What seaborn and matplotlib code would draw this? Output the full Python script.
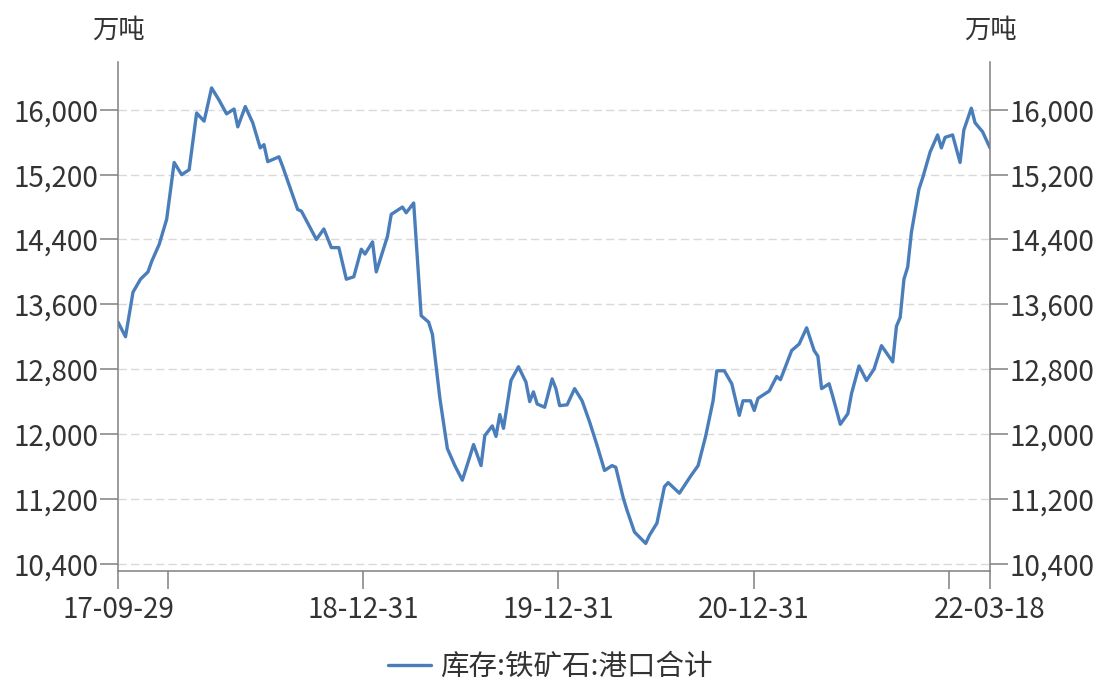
"""
Port iron ore inventory, weekly, with twin y axes.
"""
import matplotlib
matplotlib.use("Agg")
import matplotlib.pyplot as plt
import matplotlib.ticker as mticker
import numpy as np
import pandas as pd
import seaborn as sns

# --------------------------------------------------------------------------- #
# Data
# --------------------------------------------------------------------------- #
DATES = [
    "2017-09-29", "2017-10-13", "2017-10-27", "2017-11-10", "2017-11-24",
    "2017-12-01", "2017-12-15", "2017-12-29", "2018-01-12", "2018-01-26",
    "2018-02-09", "2018-02-23", "2018-03-09", "2018-03-23", "2018-04-06",
    "2018-04-20", "2018-05-04", "2018-05-11", "2018-05-25", "2018-06-08",
    "2018-06-22", "2018-06-29", "2018-07-06", "2018-07-27", "2018-08-03",
    "2018-08-31", "2018-09-07", "2018-10-05", "2018-10-19", "2018-11-02",
    "2018-11-16", "2018-11-30", "2018-12-14", "2018-12-28", "2019-01-04",
    "2019-01-18", "2019-01-25", "2019-02-15", "2019-02-22", "2019-03-15",
    "2019-03-22", "2019-04-05", "2019-04-12", "2019-04-19", "2019-05-03",
    "2019-05-10", "2019-05-24", "2019-06-07", "2019-06-21", "2019-07-05",
    "2019-07-19", "2019-07-26", "2019-08-09", "2019-08-16", "2019-08-30",
    "2019-09-06", "2019-09-13", "2019-09-20", "2019-10-04", "2019-10-18",
    "2019-11-01", "2019-11-08", "2019-11-15", "2019-11-22", "2019-12-06",
    "2019-12-20", "2019-12-27", "2020-01-03", "2020-01-17", "2020-01-31",
    "2020-02-14", "2020-02-28", "2020-03-13", "2020-03-27", "2020-04-10",
    "2020-04-17", "2020-05-01", "2020-05-08", "2020-05-22", "2020-06-12",
    "2020-06-19", "2020-07-03", "2020-07-17", "2020-07-24", "2020-08-14",
    "2020-09-04", "2020-09-18", "2020-10-02", "2020-10-16", "2020-10-23",
    "2020-11-06", "2020-11-20", "2020-12-04", "2020-12-11", "2020-12-25",
    "2021-01-01", "2021-01-08", "2021-01-29", "2021-02-12", "2021-02-19",
    "2021-03-12", "2021-03-26", "2021-04-09", "2021-04-23", "2021-04-30",
    "2021-05-07", "2021-05-21", "2021-05-28", "2021-06-11", "2021-06-25",
    "2021-07-02", "2021-07-16", "2021-07-30", "2021-08-13", "2021-08-27",
    "2021-09-17", "2021-09-24", "2021-10-01", "2021-10-08", "2021-10-15",
    "2021-10-22", "2021-11-05", "2021-11-12", "2021-11-26", "2021-12-10",
    "2021-12-17", "2021-12-24", "2022-01-07", "2022-01-21", "2022-01-28",
    "2022-02-11", "2022-02-18", "2022-03-04", "2022-03-18",
]
INVENTORY = [
    13380, 13200, 13750, 13910, 14000,
    14130, 14340, 14650, 15350, 15200,
    15260, 15960, 15860, 16270, 16120,
    15950, 16010, 15790, 16040, 15840,
    15530, 15570, 15360, 15420, 15300,
    14770, 14750, 14400, 14530, 14300,
    14300, 13910, 13940, 14280, 14220,
    14370, 14000, 14440, 14710, 14800,
    14730, 14850, 14160, 13460, 13380,
    13230, 12440, 11820, 11610, 11430,
    11720, 11870, 11610, 11980, 12100,
    11970, 12240, 12070, 12660, 12830,
    12640, 12400, 12520, 12370, 12330,
    12680, 12560, 12350, 12360, 12560,
    12410, 12150, 11860, 11550, 11610,
    11590, 11210, 11060, 10790, 10650,
    10750, 10900, 11350, 11400, 11270,
    11480, 11610, 11970, 12410, 12780,
    12780, 12620, 12230, 12410, 12410,
    12290, 12440, 12530, 12710, 12670,
    13030, 13110, 13310, 13030, 12960,
    12560, 12620, 12460, 12120, 12250,
    12500, 12840, 12660, 12800, 13090,
    12890, 13330, 13440, 13910, 14060,
    14490, 15020, 15160, 15480, 15690,
    15530, 15660, 15690, 15350, 15750,
    16020, 15840, 15730, 15530,
]
SERIES_NAME = "库存:铁矿石:港口合计"
UNIT = "万吨"

Y_TICKS = [10400, 11200, 12000, 12800, 13600, 14400, 15200, 16000]
X_TICKS = ["2017-09-29", "2017-12-31", "2018-12-31", "2019-12-31",
           "2020-12-31", "2021-12-31", "2022-03-18"]
X_LABELS = ["17-09-29", "", "18-12-31", "19-12-31", "20-12-31", "", "22-03-18"]

# --------------------------------------------------------------------------- #
# Style
# --------------------------------------------------------------------------- #
LINE_COLOR = "#4a7ebb"
AXIS_COLOR = "#808080"
TEXT_COLOR = "#333333"
FONT = ["Noto Sans CJK SC", "DejaVu Sans"]

sns.set_theme(style="white")
plt.rcParams["font.family"] = FONT
plt.rcParams["axes.unicode_minus"] = False

df = pd.DataFrame({"date": pd.to_datetime(DATES), "value": INVENTORY})

fig = plt.figure(figsize=(11.01, 6.82), dpi=100)
ax = fig.add_axes([0.1072, 0.1628, 0.7920, 0.7463])

sns.lineplot(data=df, x="date", y="value", ax=ax, color=LINE_COLOR,
             linewidth=2.4, label=SERIES_NAME)
ax.get_legend().remove()

ax2 = ax.twinx()
ylim = (10310, 16590)
for a in (ax, ax2):
    a.set_ylim(*ylim)
    a.set_yticks(Y_TICKS)
    a.yaxis.set_major_formatter(mticker.FuncFormatter(lambda v, p: f"{v:,.0f}"))
    a.tick_params(axis="y", length=13, width=1.1, color=AXIS_COLOR,
                  labelsize=20, labelcolor=TEXT_COLOR, pad=1)
    for s in a.spines.values():
        s.set_color(AXIS_COLOR)
        s.set_linewidth(1.1)
    a.spines["top"].set_visible(False)
ax.spines["right"].set_visible(False)
ax2.spines["left"].set_visible(False)
ax2.spines["bottom"].set_visible(False)

ax.yaxis.grid(True, color="#d9d9d9", linestyle=(0, (6, 3)), linewidth=1.0)
ax.set_axisbelow(True)

ax.set_xlim(pd.Timestamp(DATES[0]), pd.Timestamp(DATES[-1]))
ax.set_xticks(pd.to_datetime(X_TICKS))
ax.set_xticklabels(X_LABELS)
ax.tick_params(axis="x", length=13, width=1.1, color=AXIS_COLOR,
               labelsize=20, labelcolor=TEXT_COLOR, pad=4)
ax.tick_params(axis="both", which="both", bottom=True, left=True)
ax2.tick_params(axis="y", right=True)
ax.set_xlabel("")
ax.set_ylabel("")

ax.text(0.0, 1.063, UNIT, transform=ax.transAxes, ha="center", va="center",
        fontsize=19, color=TEXT_COLOR)
ax.text(1.0, 1.063, UNIT, transform=ax.transAxes, ha="center", va="center",
        fontsize=19, color=TEXT_COLOR)

handles, labels = ax.get_legend_handles_labels()
fig.legend(handles, labels, loc="center", bbox_to_anchor=(0.5, 0.022),
           frameon=False, fontsize=20.5, handlelength=1.5, handletextpad=0.35,
           labelcolor=TEXT_COLOR)

fig.savefig("out.png", dpi=100)
